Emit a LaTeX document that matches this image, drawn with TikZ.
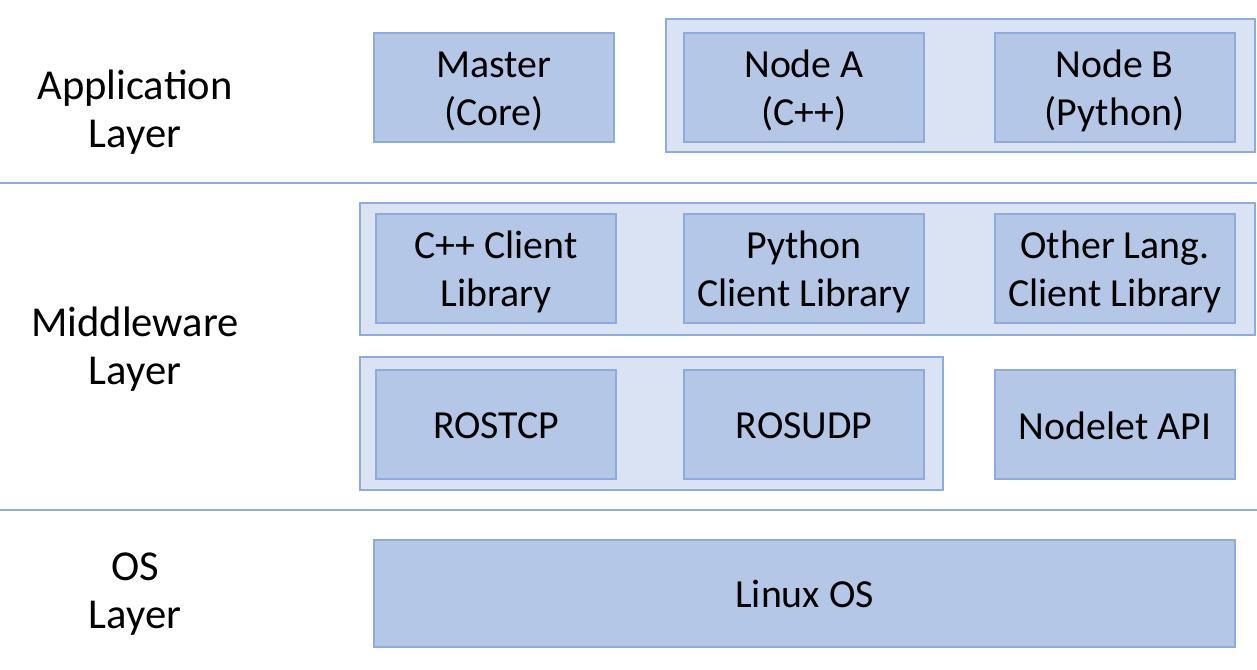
\documentclass[tikz,border=0pt]{standalone}
\usepackage{fontspec}
\setmainfont{Carlito}
\definecolor{inner}{HTML}{B4C7E7}
\definecolor{outer}{HTML}{DAE3F3}
\definecolor{edge}{HTML}{8FAADC}
\newcommand{\twoline}[1]{\raisebox{-2pt}[\height][\depth]{\renewcommand{\arraystretch}{1.02}\begin{tabular}{@{}c@{}}#1\end{tabular}}}
\newcommand{\oneline}[1]{\raisebox{-0.5pt}[\height][\depth]{#1}}
\begin{document}
\begin{tikzpicture}[x=0.5pt,y=-0.5pt,
  box/.style={draw=edge,fill=inner,line width=1pt,minimum width=120pt,minimum height=54.5pt,align=center,inner sep=0pt,font=\fontsize{19.9}{23.5}\selectfont},
  grp/.style={draw=edge,fill=outer,line width=1pt,inner sep=0pt},
  lbl/.style={align=center,font=\fontsize{21.3}{23.9}\selectfont},
  sep/.style={draw=edge,line width=1pt}]
\useasboundingbox[fill=white] (0,0) rectangle (1257,669);
% groups
\node[grp,minimum width=294.5pt,minimum height=66.5pt] (gapp) at (960.5,85.5) {};
\node[grp,minimum width=447.5pt,minimum height=66pt] (gcl) at (807.5,269) {};
\node[grp,minimum width=291.5pt,minimum height=66.5pt] (gtr) at (651.5,423.5) {};
% separators
\coordinate (s1l) at (0,183); \coordinate (s1r) at (1257,183);
\coordinate (s2l) at (0,510); \coordinate (s2r) at (1257,510);
\draw[sep] (s1l) -- (s1r);
\draw[sep] (s2l) -- (s2r);
% application layer
\node[box] (master) at (494,87.5) {\twoline{Master\\(Core)}};
\node[box] (nodea) at (804,87.5) {\twoline{Node A\\(C++)}};
\node[box] (nodeb) at (1114.5,87.5) {\twoline{Node B\\(Python)}};
% middleware
\node[box] (cpp) at (496,268.5) {\twoline{C++ Client\\Library}};
\node[box] (py) at (804,268.5) {\twoline{Python\\Client Library}};
\node[box] (other) at (1115,268.5) {\twoline{Other Lang.\\Client Library}};
\node[box] (tcp) at (496,424.5) {\oneline{ROSTCP}};
\node[box] (udp) at (804,424.5) {\oneline{ROSUDP}};
\node[box] (nodelet) at (1115,424.5) {\oneline{Nodelet API}};
% os
\node[box,minimum width=430.5pt,minimum height=53.5pt] (linux) at (804.5,593.5) {Linux OS};
% layer labels
\node[lbl] (lapp) at (135,112.5) {Application\\Layer};
\node[lbl] (lmid) at (135,349) {Middleware\\Layer};
\node[lbl] (los) at (135,594.5) {OS\\Layer};
\end{tikzpicture}
\end{document}
